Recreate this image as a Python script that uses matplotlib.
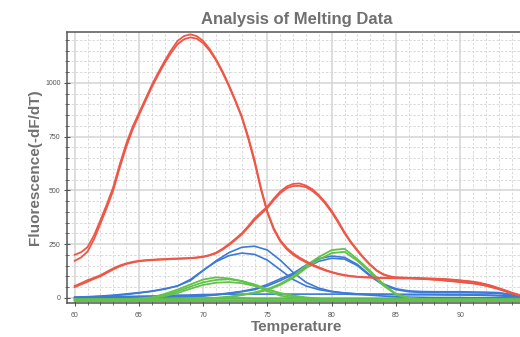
import matplotlib
matplotlib.use("Agg")
import matplotlib.pyplot as plt
from matplotlib.ticker import MultipleLocator

plt.rcParams['font.family'] = ['Liberation Sans', 'DejaVu Sans']

temps = list(range(60, 96))
temps_half = [60 + 0.5 * i for i in range(71)]

red_peak1_a = [200, 212, 236, 290, 361, 435, 515, 620, 715, 795, 860, 925, 990, 1048, 1102, 1152,
               1195, 1218, 1226, 1218, 1195, 1158, 1110, 1055, 990, 920, 845, 750, 640, 510, 400, 322,
               268, 232, 207, 187, 170, 155, 142, 130, 120, 112, 106, 101, 98, 96, 95, 94,
               93, 92, 92, 91, 91, 90, 89, 87, 85, 83, 80, 77, 74, 71, 68, 63,
               57, 50, 42, 32, 22, 14, 8]
red_peak1_b = [172, 188, 215, 272, 345, 420, 500, 605, 700, 782, 850, 915, 980, 1038, 1092, 1140,
               1180, 1203, 1212, 1206, 1185, 1150, 1105, 1048, 985, 915, 840, 742, 630, 502, 395, 316,
               262, 226, 200, 181, 165, 150, 138, 127, 118, 110, 104, 100, 97, 95, 94, 93,
               92, 91, 91, 90, 90, 89, 88, 86, 84, 82, 79, 76, 73, 70, 67, 62,
               56, 48, 40, 30, 20, 12, 6]
red_peak2_a = [55, 68, 82, 93, 105, 121, 137, 150, 160, 167, 172, 175, 177, 179, 180, 182,
               183, 184, 185, 188, 192, 199, 210, 228, 250, 274, 300, 333, 370, 398, 425, 462,
               495, 518, 530, 532, 522, 505, 478, 445, 405, 357, 305, 260, 222, 186, 155, 128,
               110, 100, 95, 94, 93, 92, 91, 90, 89, 88, 86, 84, 81, 78, 75, 70,
               63, 55, 45, 35, 24, 15, 8]
red_peak2_b = [50, 62, 75, 88, 100, 116, 132, 146, 157, 164, 170, 173, 175, 177, 178, 180,
               181, 182, 184, 186, 190, 197, 207, 224, 245, 269, 295, 327, 362, 390, 418, 455,
               487, 510, 520, 521, 515, 497, 472, 438, 398, 350, 300, 256, 218, 183, 152, 126,
               108, 99, 94, 93, 92, 91, 90, 89, 88, 87, 85, 83, 80, 77, 73, 68,
               61, 53, 43, 33, 22, 13, 6]

blue_peak1_a = [3, 5, 8, 12, 18, 24, 31, 42, 55, 80, 127, 172, 210, 235, 240, 222,
                175, 118, 72, 45, 30, 22, 18, 17, 17, 16, 16, 16, 15, 15, 15, 14, 13, 11, 8, 5]
blue_peak1_b = [0, 3, 6, 10, 15, 22, 30, 40, 55, 85, 128, 168, 196, 208, 202, 175,
                130, 85, 55, 38, 28, 22, 18, 16, 15, 15, 14, 14, 14, 13, 13, 12, 11, 9, 6, 3]
blue_peak2_a = [0, 1, 2, 3, 4, 5, 6, 7, 8, 9, 10, 15, 22, 30, 42, 62,
                88, 114, 152, 182, 194, 188, 155, 105, 65, 42, 32, 29, 28, 28, 28, 27, 26, 24, 15, 5]
blue_peak2_b = [-2, -1, 0, 1, 2, 3, 4, 5, 6, 7, 8, 13, 20, 28, 38, 55,
                80, 108, 140, 170, 184, 180, 150, 100, 60, 38, 28, 25, 24, 24, 24, 23, 22, 20, 12, 3]
blue_base_a = [2, 3, 4, 5, 6, 7, 8, 10, 12, 13, 15, 16, 17, 17, 17, 17,
               17, 17, 17, 17, 17, 17, 15, 12, 8, 5, 3, 2, 1, 1, 1, 0, 0, 0, -1, -2]
blue_base_b = [-3, -3, -2, -2, -2, -2, -2, -2, -2, -2, -2, -2, -2, -2, -3, -3,
               -3, -3, -3, -3, -3, -3, -3, -3, -3, -3, -3, -3, -3, -3, -3, -3, -3, -3, -4, -4]

green_peak1_a = [-10, -10, -9, -8, -6, -3, 2, 18, 38, 62, 85, 95, 90, 78, 58, 30,
                 10, 0, -4, -6, -8, -9, -10, -10, -10, -10, -10, -10, -10, -10, -10, -10, -10, -10, -10, -10]
green_peak1_b = [-12, -12, -11, -10, -8, -5, 0, 12, 30, 52, 72, 83, 86, 78, 62, 40,
                 20, 6, -2, -6, -8, -10, -11, -12, -12, -12, -12, -12, -12, -12, -12, -12, -12, -12, -12, -12]
green_peak1_c = [-14, -14, -13, -12, -10, -7, -2, 8, 22, 42, 60, 70, 73, 68, 55, 38,
                 22, 10, 2, -4, -8, -10, -12, -13, -14, -14, -14, -14, -14, -14, -14, -14, -14, -14, -14, -14]
green_peak2_a = [-10, -10, -10, -10, -10, -10, -9, -8, -7, -6, -5, 0, 5, 14, 25, 40,
                 65, 100, 150, 190, 222, 228, 180, 125, 65, 18, 0, -6, -8, -9, -10, -10, -10, -10, -10, -10]
green_peak2_b = [-12, -12, -12, -12, -12, -12, -11, -10, -9, -8, -7, -2, 3, 12, 22, 36,
                 60, 92, 138, 178, 208, 214, 172, 118, 58, 15, -2, -7, -9, -10, -11, -12, -12, -12, -12, -12]
green_base_a = [-8, -8, -8, -8, -8, -8, -8, -8, -8, -8, -8, -8, -8, -8, -8, -8,
                -8, -8, -8, -8, -8, -8, -8, -8, -8, -8, -8, -8, -8, -8, -8, -8, -8, -8, -8, -8]
green_base_b = [-13, -13, -13, -13, -13, -13, -13, -13, -13, -13, -13, -13, -13, -13, -13, -13,
                -13, -13, -13, -13, -13, -13, -13, -13, -13, -13, -13, -13, -13, -13, -13, -13, -13, -13, -13, -13]
green_base_c = [-17, -17, -17, -17, -17, -17, -17, -17, -17, -17, -17, -17, -17, -17, -17, -17,
                -17, -17, -17, -17, -17, -17, -17, -17, -17, -17, -17, -17, -17, -17, -17, -17, -17, -17, -17, -17]

title = "Analysis of Melting Data"
xlabel = "Temperature"
ylabel = "Fluorescence(-dF/dT)"
xticks = [60, 65, 70, 75, 80, 85, 90, 95]
yticks = [0, 250, 500, 750, 1000]

RED = '#EE5646'
BLUE = '#3C7AD8'
GREEN = '#62C24A'

fig = plt.figure(figsize=(5.20, 3.37), dpi=100)
ax = fig.add_axes([67/520, 34.5/337, 460/520, 270.5/337])

greens = [green_base_a, green_base_b, green_base_c, green_peak1_a, green_peak1_b, green_peak1_c,
          green_peak2_a, green_peak2_b]
blues = [blue_base_a, blue_base_b, blue_peak1_a, blue_peak1_b, blue_peak2_a, blue_peak2_b]
reds = [red_peak1_a, red_peak1_b, red_peak2_a, red_peak2_b]

for s in blues:
    ax.plot(temps, s, color=BLUE, lw=1.2, zorder=3, solid_joinstyle='round')
for s in greens:
    ax.plot(temps, s, color=GREEN, lw=1.3, zorder=3, solid_joinstyle='round')
for s in reds:
    ax.plot(temps_half, s, color=RED, lw=1.3, zorder=4, solid_joinstyle='round')

ax.set_xlim(59.4, 95.2)
ax.set_ylim(-22, 1237)
ax.set_xticks(xticks)
ax.set_yticks(yticks)
ax.xaxis.set_minor_locator(MultipleLocator(1))
ax.yaxis.set_minor_locator(MultipleLocator(50))

ax.grid(which='major', color='#d4d4d4', lw=1.1, ls='-', zorder=0)
ax.grid(which='minor', color='#d4d4d4', lw=0.6, ls=(0, (3, 2)), zorder=0)
ax.set_axisbelow(True)

for sp in ax.spines.values():
    sp.set_color('#555555')
    sp.set_linewidth(1.1)

ax.tick_params(which='major', direction='inout', length=4, width=0.8, color='#555555',
               labelsize=5, labelcolor='#555555', pad=2.5)
ax.tick_params(which='minor', direction='inout', length=2.5, width=0.6, color='#555555')
ax.tick_params(axis='x', which='major', pad=4.5)

ax.set_title(title, fontsize=12, fontweight='bold', color='#707070', pad=6)
ax.set_xlabel(xlabel, fontsize=11, fontweight='bold', color='#707070')
ax.set_ylabel(ylabel, fontsize=11, fontweight='bold', color='#707070')
ax.xaxis.set_label_coords(0.5, -0.066)
ax.yaxis.set_label_coords(-0.055, 0.5)

fig.savefig('out.png', dpi=100)
